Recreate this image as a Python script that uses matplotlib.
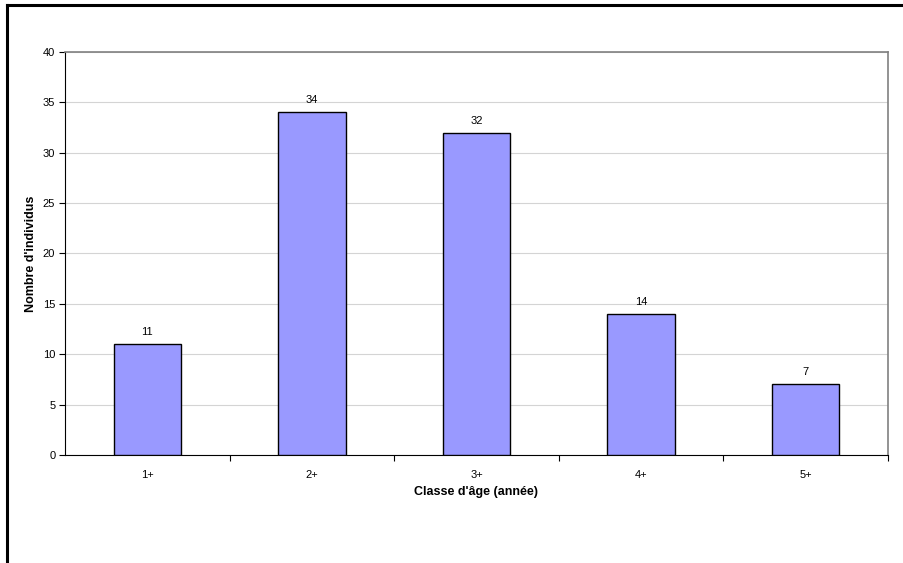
import matplotlib.pyplot as plt
from matplotlib.lines import Line2D

plt.rcParams['font.family'] = ['Liberation Sans', 'DejaVu Sans']

classes = ['1+', '2+', '3+', '4+', '5+']
effectifs = [11, 34, 32, 14, 7]
y_ticks = [0, 5, 10, 15, 20, 25, 30, 35, 40]

fig = plt.figure(figsize=(9.04, 5.63), dpi=100)
ax = fig.add_axes([65 / 904, 1 - 455 / 563, (888 - 65) / 904, (455 - 52) / 563])

x = range(len(classes))
bars = ax.bar(x, effectifs, width=0.41, color='#9999ff', edgecolor='black',
              linewidth=1.0, zorder=3)
for b, v in zip(bars, effectifs):
    ax.text(b.get_x() + b.get_width() / 2, v + 0.7, str(v), ha='center',
            va='bottom', fontsize=8)

ax.set_xlim(-0.5, len(classes) - 0.5)
ax.set_ylim(0, 40)
ax.set_yticks(y_ticks)
ax.tick_params(axis='y', labelsize=8, length=4, width=0.8, direction='out', pad=3)

# category labels centred, ticks on the category boundaries
ax.set_xticks(list(x))
ax.set_xticklabels(classes, fontsize=8)
ax.tick_params(axis='x', which='major', length=0, pad=11)
ax.set_xticks([i + 0.5 for i in range(len(classes))], minor=True)
ax.tick_params(axis='x', which='minor', length=4, width=0.8, direction='out')

ax.yaxis.grid(True, color='#d4d4d4', linewidth=0.8, zorder=0)
ax.set_axisbelow(True)

ax.spines['left'].set_color('black')
ax.spines['bottom'].set_color('black')
for s in ('top', 'right'):
    ax.spines[s].set_color('#808080')
    ax.spines[s].set_linewidth(1.2)

ax.set_ylabel("Nombre d'individus", fontsize=9, fontweight='bold', labelpad=4)
ax.set_xlabel("Classe d'âge (année)", fontsize=9, fontweight='bold', labelpad=4)

# outer frame (top and left edges)
fig.add_artist(Line2D([7 / 904, 1], [1 - 5 / 563, 1 - 5 / 563], color='black',
                      linewidth=2.2, transform=fig.transFigure))
fig.add_artist(Line2D([7 / 904, 7 / 904], [0, 1 - 5 / 563], color='black',
                      linewidth=2.2, transform=fig.transFigure))

fig.savefig('out.png', dpi=100)
